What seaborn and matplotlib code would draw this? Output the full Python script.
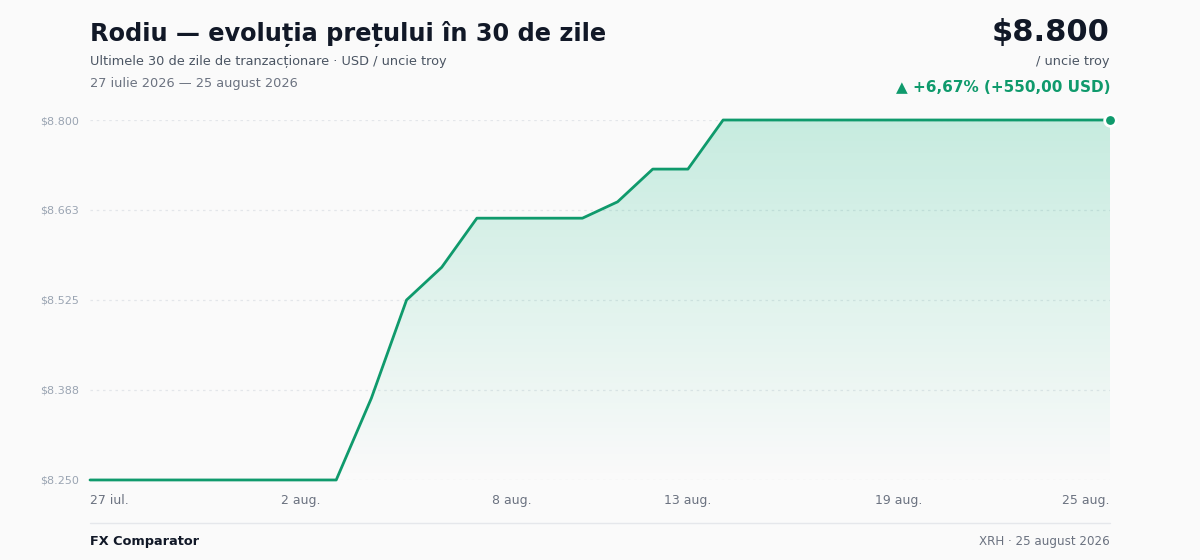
import numpy as np
import pandas as pd
import seaborn as sns
import matplotlib.pyplot as plt
from matplotlib.colors import LinearSegmentedColormap

# date, pret (USD / uncie troy)
zile = ['27 iul.', '28 iul.', '29 iul.', '30 iul.', '31 iul.', '1 aug.', '2 aug.', '3 aug.',
        '4 aug.', '5 aug.', '6 aug.', '7 aug.', '8 aug.', '9 aug.', '10 aug.', '11 aug.',
        '12 aug.', '13 aug.', '14 aug.', '15 aug.', '16 aug.', '17 aug.', '18 aug.', '19 aug.',
        '20 aug.', '21 aug.', '22 aug.', '23 aug.', '24 aug.', '25 aug.']
pret = [8250, 8250, 8250, 8250, 8250, 8250, 8250, 8250,
        8375, 8525, 8575, 8650, 8650, 8650, 8650, 8675,
        8725, 8725, 8800, 8800, 8800, 8800, 8800, 8800,
        8800, 8800, 8800, 8800, 8800, 8800]
etichete_x = ['27 iul.', '2 aug.', '8 aug.', '13 aug.', '19 aug.', '25 aug.']
ticks_y = [8250, 8387.5, 8525, 8662.5, 8800]

df = pd.DataFrame({'zi': range(len(zile)), 'eticheta': zile, 'pret': pret})

verde = '#0f9a6c'
bg = '#fafafa'

sns.set_theme(style='white')
plt.rcParams['font.family'] = ['DejaVu Sans']

fig = plt.figure(figsize=(12, 5.6), dpi=100, facecolor=bg)
ax = fig.add_axes([0.075, 0.1429, 0.85, 0.6428])
ax.set_facecolor(bg)

ymin, ymax = 8250, 8800
ax.set_xlim(0, len(zile) - 1)
ax.set_ylim(ymin, ymax)

# gradient sub linie
cmap = LinearSegmentedColormap.from_list('g', [(0.063, 0.725, 0.506, 0.0), (0.063, 0.725, 0.506, 0.22)])
grad = np.linspace(0, 1, 256).reshape(-1, 1)
img = ax.imshow(grad, cmap=cmap, aspect='auto', origin='lower',
                extent=[0, len(zile) - 1, ymin, ymax], zorder=1)
poly = ax.fill_between(df['zi'], df['pret'], ymin, color='none', lw=0)
img.set_clip_path(poly.get_paths()[0], transform=ax.transData)

sns.lineplot(data=df, x='zi', y='pret', ax=ax, color=verde, lw=2, zorder=3)
for l in ax.lines:
    l.set_clip_on(False)
ax.scatter([df['zi'].iloc[-1]], [df['pret'].iloc[-1]], s=70, color=verde,
           edgecolor='white', linewidth=2, zorder=4, clip_on=False)

for t in ticks_y:
    ax.axhline(t, color='#e3e6ea', lw=0.9, ls=(0, (2, 3)), zorder=0)

ax.set_yticks(ticks_y)
ax.set_yticklabels(['$' + f'{int(t + 0.5):,}'.replace(',', '.') for t in ticks_y],
                   color='#9aa4b2', fontsize=8)
pos_x = [zile.index(e) for e in etichete_x]
ax.set_xticks(pos_x)
ax.set_xticklabels(etichete_x, color='#6b7280', fontsize=9)
labs = ax.get_xticklabels()
labs[0].set_ha('left')
labs[-1].set_ha('right')
ax.tick_params(axis='both', length=0)
ax.tick_params(axis='x', pad=10)
ax.tick_params(axis='y', pad=8)
ax.set_xlabel('')
ax.set_ylabel('')
sns.despine(ax=ax, left=True, bottom=True)

# titluri
fig.text(90 / 1200, 1 - 34 / 560, 'Rodiu — evoluția prețului în 30 de zile', fontsize=17.3,
         fontweight='bold', color='#111827', va='center', ha='left')
fig.text(90 / 1200, 1 - 61 / 560, 'Ultimele 30 de zile de tranzacționare · USD / uncie troy',
         fontsize=9.3, color='#4b5563', va='center', ha='left')
fig.text(90 / 1200, 1 - 83 / 560, '27 iulie 2026 — 25 august 2026',
         fontsize=9.3, color='#6b7280', va='center', ha='left')

fig.text(1110 / 1200, 1 - 33 / 560, '$8.800', fontsize=22, fontweight='bold',
         color='#111827', va='center', ha='right')
fig.text(1110 / 1200, 1 - 62 / 560, '/ uncie troy', fontsize=9.3, color='#4b5563',
         va='center', ha='right')
fig.text(1110 / 1200, 1 - 87 / 560, '▲ +6,67% (+550,00 USD)', fontsize=11, fontweight='bold',
         color=verde, va='center', ha='right')

# subsol
fig.add_artist(plt.Line2D([90 / 1200, 1110 / 1200], [1 - 523 / 560, 1 - 523 / 560],
                          color='#e5e7eb', lw=1))
fig.text(90 / 1200, 1 - 541 / 560, 'FX Comparator', fontsize=9.3, fontweight='bold',
         color='#111827', va='center', ha='left')
fig.text(1110 / 1200, 1 - 541 / 560, 'XRH · 25 august 2026', fontsize=8.6,
         color='#6b7280', va='center', ha='right')

fig.savefig('out.png', dpi=100, facecolor=bg)
